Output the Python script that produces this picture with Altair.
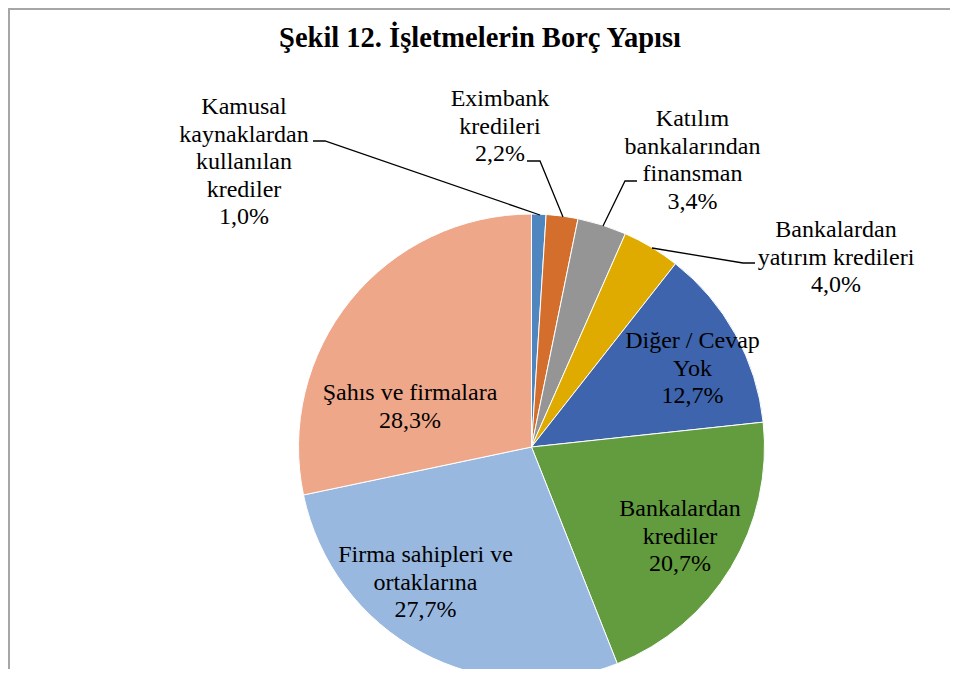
import altair as alt
import pandas as pd

# ---- data ----
categories = [
    "Kamusal kaynaklardan kullanılan krediler",
    "Eximbank kredileri",
    "Katılım bankalarından finansman",
    "Bankalardan yatırım kredileri",
    "Diğer / Cevap Yok",
    "Bankalardan krediler",
    "Firma sahipleri ve ortaklarına",
    "Şahıs ve firmalara",
]
shares = [1.0, 2.2, 3.4, 4.0, 12.7, 20.7, 27.7, 28.3]
label_text = [
    "Kamusal\nkaynaklardan\nkullanılan\nkrediler",
    "Eximbank\nkredileri",
    "Katılım\nbankalarından\nfinansman",
    "Bankalardan\nyatırım kredileri",
    "Diğer / Cevap\nYok",
    "Bankalardan\nkrediler",
    "Firma sahipleri ve\nortaklarına",
    "Şahıs ve firmalara",
]
title_text = "Şekil 12. İşletmelerin Borç Yapısı"

# ---- styling / layout ----
FONT = "'Liberation Serif', 'Times New Roman', serif"
colors = ["#4F86C0", "#D46E2C", "#959595", "#E0AB00",
          "#3D64AC", "#629C3E", "#98B8E0", "#EFA78A"]
W, H = 942, 661
CX, CY, R = 523.5, 439, 233
label_x = [236, 492, 684.5, 828, 684.5, 672, 417.5, 402]
label_y = [106, 98, 118, 229, 340, 508, 554, 392]
leader_pts = [
    [(305, 133), (317, 133), (532, 207)],
    [(519, 153), (532, 153), (555, 209)],
    [(629, 173), (617, 173), (595, 218)],
    [(747, 255), (735, 255), (644, 240)],
]

def pct(v):
    return f"{v:.1f}".replace(".", ",") + "%"

pie_df = pd.DataFrame({
    "category": categories,
    "share": shares,
    "idx": list(range(len(categories))),
})
lab_df = pd.DataFrame({
    "label": [t + "\n" + pct(v) for t, v in zip(label_text, shares)],
    "x": label_x,
    "y": label_y,
})
rows = []
for i, pts in enumerate(leader_pts):
    for j, (px, py) in enumerate(pts):
        rows.append({"lid": i, "k": j, "x": px, "y": py})
lead_df = pd.DataFrame(rows)

xs = alt.Scale(domain=[0, W], range=[0, W], nice=False, zero=False)
ys = alt.Scale(domain=[0, H], range=[0, H], nice=False, zero=False)

frame_top = alt.Chart(pd.DataFrame({"a": [0]})).mark_rule(
    color="#A6A6A6", strokeWidth=2
).encode(x=alt.value(0), x2=alt.value(W), y=alt.value(1))
frame_left = alt.Chart(pd.DataFrame({"a": [0]})).mark_rule(
    color="#A6A6A6", strokeWidth=2
).encode(x=alt.value(1), y=alt.value(0), y2=alt.value(H))

pie = alt.Chart(pie_df).mark_arc(
    outerRadius=R, stroke="white", strokeWidth=1
).encode(
    theta=alt.Theta("share:Q", stack=True),
    color=alt.Color("category:N", scale=alt.Scale(domain=categories, range=colors), legend=None),
    order=alt.Order("idx:Q", sort="ascending"),
    x=alt.value(CX),
    y=alt.value(CY),
)

leaders = alt.Chart(lead_df).mark_line(color="black", strokeWidth=1.3).encode(
    x=alt.X("x:Q", scale=xs, axis=None),
    y=alt.Y("y:Q", scale=ys, axis=None),
    detail="lid:N",
    order="k:Q",
)

labels = alt.Chart(lab_df).mark_text(
    font=FONT, fontSize=24, lineBreak="\n", lineHeight=27.6,
    align="center", baseline="alphabetic", color="black"
).encode(
    x=alt.X("x:Q", scale=xs, axis=None),
    y=alt.Y("y:Q", scale=ys, axis=None),
    text="label:N",
)

title = alt.Chart(pd.DataFrame({"t": [title_text]})).mark_text(
    font=FONT, fontSize=28.5, fontWeight="bold",
    align="center", baseline="alphabetic", color="black"
).encode(x=alt.value(472), y=alt.value(39), text="t:N")

chart = alt.layer(frame_top, frame_left, pie, leaders, labels, title).properties(
    width=W, height=H, autosize=alt.AutoSizeParams(type="none"), padding=0,
    background="white",
).configure_view(stroke=None)

chart.save("out.html", embed_options={"renderer": "svg", "actions": False})
